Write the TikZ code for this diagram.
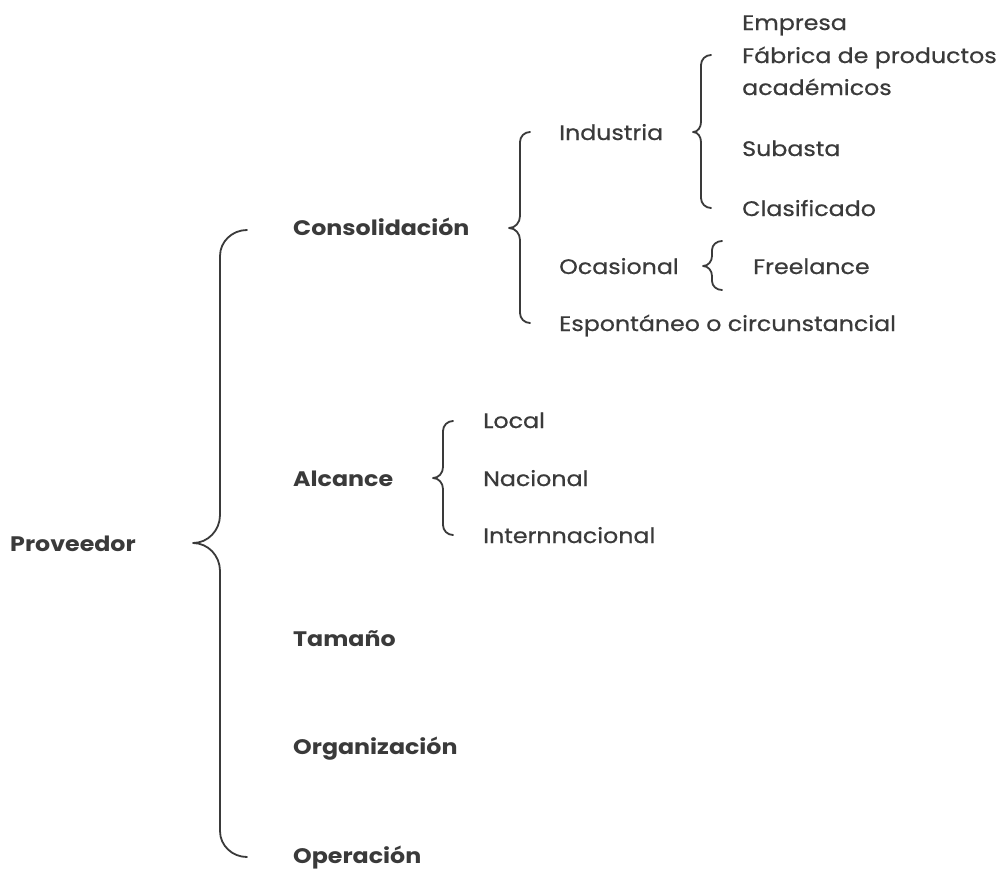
\documentclass[tikz,border=0pt]{standalone}
\usepackage{fontspec}
\setmainfont{Poppins}[FakeStretch=1.13,UprightFeatures={FakeBold=0.6}]
\begin{document}
\begin{tikzpicture}[x=1pt,y=-1pt,
  lbl/.style={anchor=base west,inner sep=0pt,text=ink,font=\fontsize{21}{25}\selectfont},
  head/.style={lbl,font=\fontsize{21}{25}\selectfont\bfseries},
  bracepath/.style={draw=ink,line width=1.8pt,line cap=round,line join=round}]
\definecolor{ink}{HTML}{3A3A3A}
\useasboundingbox[fill=white] (0,0) rectangle (1006,871);

% brace: hook end x, spine x, tip x, top y, tip y, bottom y, hook radius, tip radius
% (in/out angles are page directions)
\newcommand{\curlybrace}[8]{%
  \draw[bracepath] (#1,#4) to[out=180,in=90] (#2,#4+#7) -- (#2,#5-#8)
    to[out=-90,in=0] (#3,#5) to[out=0,in=90] (#2,#5+#8) -- (#2,#6-#7)
    to[out=-90,in=180] (#1,#6);}

% level 0
\node[head] (prov) at (10,551) {Proveedor};
% level 1
\node[head] (cons) at (293,235) {Consolidación};
\node[head] (alc)  at (293,486) {Alcance};
\node[head] (tam)  at (293,646) {Tamaño};
\node[head] (org)  at (293,754) {Organización};
\node[head] (ope)  at (293,863) {Operación};
% level 2 under Consolidación
\node[lbl] (ind) at (559,140) {Industria};
\node[lbl] (oca) at (559,274) {Ocasional};
\node[lbl] (esp) at (559,331) {Espontáneo o circunstancial};
% level 3 under Industria
\node[lbl] (emp) at (742,30) {Empresa};
\node[lbl] (fab) at (742,63) {Fábrica de productos};
\node[lbl] (aca) at (742,95) {académicos};
\node[lbl] (sub) at (742,156) {Subasta};
\node[lbl] (cla) at (742,216) {Clasificado};
% level 3 under Ocasional
\node[lbl] (fre) at (753,274) {Freelance};
% level 2 under Alcance
\node[lbl] (loc) at (483,428) {Local};
\node[lbl] (nac) at (483,486) {Nacional};
\node[lbl] (int) at (483,543) {Internnacional};

% braces
\curlybrace{247}{220}{193}{230}{543}{857}{26}{28}
\curlybrace{530}{520}{509}{132}{228}{323}{10}{12}
\curlybrace{711}{701}{693}{55}{132}{208}{10}{10}
\curlybrace{722}{712}{703}{241}{266}{290}{9}{10}
\curlybrace{453}{443}{433}{421}{478}{535}{10}{11}
\end{tikzpicture}
\end{document}
